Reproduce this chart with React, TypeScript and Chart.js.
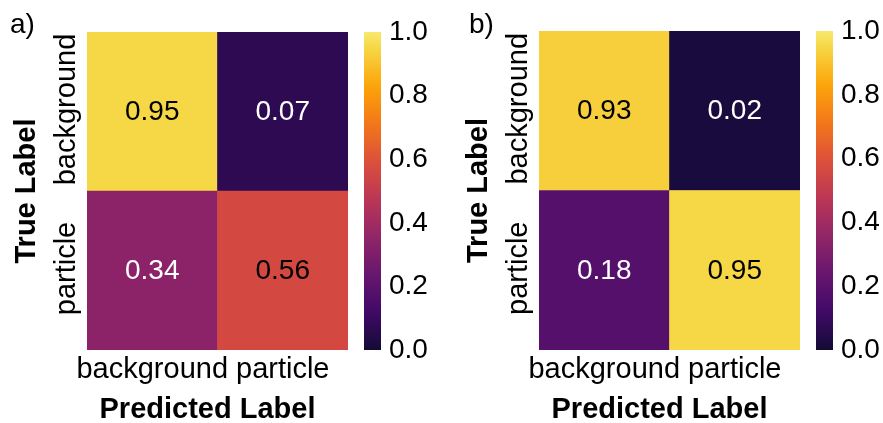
import React, { useEffect, useRef } from "react";
import { Chart, registerables } from "chart.js";

Chart.register(...registerables);

// Class names: rows are the true label (top to bottom), columns the predicted label.
const trueLabels = ["background", "particle"];
const predictedLabels = ["background", "particle"];

// Normalised confusion matrices, row = true class, column = predicted class.
const matrixA = [
  [0.95, 0.07],
  [0.34, 0.56],
];
const matrixB = [
  [0.93, 0.02],
  [0.18, 0.95],
];

// Colour bar range and tick step.
const colorbarRange = [0, 1];
const colorbarStep = 0.2;

// Inferno colormap samples at 0.0, 0.1, ..., 1.0.
const INFERNO = [
  "#000004", "#160b39", "#420a68", "#6a176e", "#932667",
  "#bc3754", "#dd513a", "#f37819", "#fca50a", "#f6d746", "#fcffa4",
];
// Only the middle part of the colormap is used.
const CMAP_LOW = 0.093;
const CMAP_HIGH = 0.943;

const FONT_FAMILY = '"Liberation Sans", Arial, Helvetica, sans-serif';
const LABEL_SIZE = 29;
const NUMBER_SIZE = 28;

function hexToRgb(h: string) {
  const n = parseInt(h.slice(1), 16);
  return [(n >> 16) & 255, (n >> 8) & 255, n & 255];
}

function inferno(t: number) {
  const x = Math.min(1, Math.max(0, t)) * (INFERNO.length - 1);
  const i = Math.min(INFERNO.length - 2, Math.floor(x));
  const f = x - i;
  const a = hexToRgb(INFERNO[i]);
  const b = hexToRgb(INFERNO[i + 1]);
  const c = a.map((v, k) => Math.round(v + (b[k] - v) * f));
  return `rgb(${c[0]},${c[1]},${c[2]})`;
}

function valueColor(v: number) {
  const t = (v - colorbarRange[0]) / (colorbarRange[1] - colorbarRange[0]);
  return inferno(CMAP_LOW + (CMAP_HIGH - CMAP_LOW) * t);
}

type PanelSpec = {
  tag: string;
  matrix: number[][];
  left: number; // page x of the panel canvases
  top: number; // top of the plot area
  tagX: number;
};

const PANELS: PanelSpec[] = [
  { tag: "a)", matrix: matrixA, left: 0, top: 32, tagX: 10 },
  { tag: "b)", matrix: matrixB, left: 452, top: 31, tagX: 17 },
];

const W = 883;
const H = 423;
const HEAT_W = 360;
const HEAT_PAD_LEFT = 87;
const HEAT_PAD_RIGHT = 12;
const PLOT_BOTTOM = 350;
const BAR_CANVAS_LEFT = 350;
const BAR_CANVAS_W = 110;
const BAR_PAD_LEFT = 14;
const BAR_W = 17;

function makeHeatmap(canvas: HTMLCanvasElement, spec: PanelSpec) {
  const rowsBottomUp = trueLabels.map((_, r) => r).reverse();

  const labelsPlugin = {
    id: "heatLabels",
    afterDatasetsDraw(chart: any) {
      const { ctx } = chart;
      ctx.save();
      // cell annotations
      ctx.font = `${NUMBER_SIZE}px ${FONT_FAMILY}`;
      ctx.textAlign = "center";
      ctx.textBaseline = "middle";
      chart.data.datasets.forEach((ds: any, di: number) => {
        const r = ds.row as number;
        const meta = chart.getDatasetMeta(di);
        meta.data.forEach((el: any, ci: number) => {
          const v = spec.matrix[r][ci];
          ctx.fillStyle = v >= 0.5 ? "#000000" : "#ffffff";
          ctx.fillText(v.toFixed(2), el.x, (el.y + el.base) / 2 + 1);
        });
      });
      ctx.restore();
    },
    afterDraw(chart: any) {
      const { ctx, chartArea } = chart;
      ctx.save();
      ctx.fillStyle = "#000000";
      // true-label category names, rotated
      ctx.font = `${LABEL_SIZE}px ${FONT_FAMILY}`;
      ctx.textAlign = "center";
      ctx.textBaseline = "middle";
      chart.data.datasets.forEach((ds: any, di: number) => {
        const meta = chart.getDatasetMeta(di);
        const el: any = meta.data[0];
        const cy = (el.y + el.base) / 2;
        ctx.save();
        ctx.translate(chartArea.left - 20, cy - 2);
        ctx.rotate(-Math.PI / 2);
        ctx.fillText(trueLabels[ds.row], 0, 0);
        ctx.restore();
      });
      // axis titles
      ctx.font = `bold ${LABEL_SIZE}px ${FONT_FAMILY}`;
      const cx = (chartArea.left + chartArea.right) / 2;
      const cy = (chartArea.top + chartArea.bottom) / 2;
      ctx.fillText("Predicted Label", cx - 10, 410);
      ctx.save();
      ctx.translate(chartArea.left - 60, cy);
      ctx.rotate(-Math.PI / 2);
      ctx.fillText("True Label", 0, 0);
      ctx.restore();
      // panel tag
      ctx.font = `${NUMBER_SIZE}px ${FONT_FAMILY}`;
      ctx.textAlign = "left";
      ctx.textBaseline = "alphabetic";
      ctx.fillText(spec.tag, spec.tagX, 33);
      ctx.restore();
    },
  };

  return new Chart(canvas, {
    type: "bar",
    data: {
      labels: predictedLabels,
      datasets: rowsBottomUp.map((r) => ({
        label: trueLabels[r],
        row: r,
        data: predictedLabels.map(() => 1),
        backgroundColor: spec.matrix[r].map(valueColor),
        borderWidth: 0,
        barPercentage: 1,
        categoryPercentage: 1,
        stack: "cells",
      })) as any,
    },
    options: {
      responsive: false,
      animation: false,
      events: [],
      layout: {
        padding: {
          left: HEAT_PAD_LEFT,
          right: HEAT_PAD_RIGHT,
          top: spec.top,
          bottom: H - PLOT_BOTTOM - 36,
        },
      },
      plugins: {
        legend: { display: false },
        tooltip: { enabled: false },
        title: { display: false },
      },
      scales: {
        x: {
          stacked: true,
          grid: { display: false, drawTicks: false },
          border: { display: false },
          ticks: {
            color: "#000000",
            padding: 3,
            autoSkip: false,
            maxRotation: 0,
            minRotation: 0,
            font: { family: FONT_FAMILY, size: LABEL_SIZE },
          },
          afterFit: (scale: any) => {
            scale.height = 36;
          },
        },
        y: {
          stacked: true,
          display: false,
          min: 0,
          max: trueLabels.length,
        },
      },
    },
    plugins: [labelsPlugin],
  } as any);
}

function makeColorbar(canvas: HTMLCanvasElement, spec: PanelSpec) {
  const ticks: number[] = [];
  for (let v = colorbarRange[0]; v <= colorbarRange[1] + 1e-9; v += colorbarStep) ticks.push(v);

  return new Chart(canvas, {
    type: "bar",
    data: {
      labels: [""],
      datasets: [
        {
          data: [[colorbarRange[0], colorbarRange[1]]],
          backgroundColor: (ctx: any) => {
            const area = ctx.chart.chartArea;
            if (!area) return "transparent";
            const g = ctx.chart.ctx.createLinearGradient(0, area.bottom, 0, area.top);
            for (let i = 0; i <= 40; i++) {
              const v = colorbarRange[0] + ((colorbarRange[1] - colorbarRange[0]) * i) / 40;
              g.addColorStop(i / 40, valueColor(v));
            }
            return g;
          },
          borderWidth: 0,
          barPercentage: 1,
          categoryPercentage: 1,
        },
      ],
    },
    options: {
      responsive: false,
      animation: false,
      events: [],
      layout: {
        padding: {
          left: BAR_PAD_LEFT,
          right: 0,
          top: spec.top,
          bottom: H - PLOT_BOTTOM,
        },
      },
      plugins: {
        legend: { display: false },
        tooltip: { enabled: false },
      },
      scales: {
        x: { display: false },
        y: {
          position: "right",
          min: colorbarRange[0],
          max: colorbarRange[1],
          grid: { display: false, drawTicks: false },
          border: { display: false },
          afterBuildTicks: (scale: any) => {
            scale.ticks = ticks.map((v) => ({ value: v }));
          },
          ticks: {
            color: "#000000",
            padding: 8,
            font: { family: FONT_FAMILY, size: NUMBER_SIZE },
            callback: (v: any) => Number(v).toFixed(1),
          },
          afterFit: (scale: any) => {
            scale.width = BAR_CANVAS_W - BAR_PAD_LEFT - BAR_W;
          },
        },
      },
    },
  } as any);
}

function Panel({ spec }: { spec: PanelSpec }) {
  const heatRef = useRef<HTMLCanvasElement>(null);
  const barRef = useRef<HTMLCanvasElement>(null);

  useEffect(() => {
    const heat = makeHeatmap(heatRef.current!, spec);
    const bar = makeColorbar(barRef.current!, spec);
    return () => {
      heat.destroy();
      bar.destroy();
    };
  }, [spec]);

  return (
    <>
      <canvas
        ref={heatRef}
        width={HEAT_W}
        height={H}
        style={{ position: "absolute", left: spec.left, top: 0, width: HEAT_W, height: H }}
      />
      <canvas
        ref={barRef}
        width={BAR_CANVAS_W}
        height={H}
        style={{
          position: "absolute",
          left: spec.left + BAR_CANVAS_LEFT,
          top: 0,
          width: BAR_CANVAS_W,
          height: H,
        }}
      />
    </>
  );
}

export default function App() {
  return (
    <div
      style={{
        position: "fixed",
        left: 0,
        top: 0,
        width: W,
        height: H,
        background: "#ffffff",
        overflow: "hidden",
      }}
    >
      {PANELS.map((p) => (
        <Panel key={p.tag} spec={p} />
      ))}
    </div>
  );
}
